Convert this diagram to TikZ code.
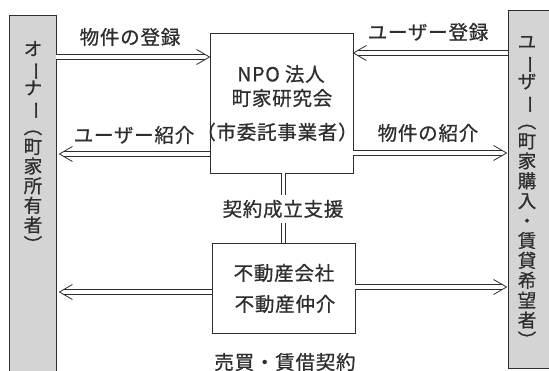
\documentclass[tikz,border=0pt]{standalone}
\usepackage{fontspec}
\setmainfont{Noto Sans CJK JP}[FakeBold=0.8]
\usetikzlibrary{calc}
\definecolor{barfill}{HTML}{D4D4D4}
\definecolor{ink}{HTML}{2E2E2E}
\newcommand\jvb{\rotatebox[origin=c]{-90}{ー}}
\newcommand\jlp{\rotatebox[origin=c]{-90}{（}}
\newcommand\jrp{\rotatebox[origin=c]{-90}{）}}
% double arrow: #1 start, #2 tip, #3 = 1 (points right) or -1 (points left)
\newcommand\dblarrow[3]{%
  \draw[dbl, shorten >=5pt] (#1) -- (#2);
  \draw[chev] ($(#2)+(-13*#3,-7.5)$) -- (#2) -- ($(#2)+(-13*#3,7.5)$);}
\begin{document}
\begin{tikzpicture}[x=1pt,y=-1pt,
  every node/.style={text=ink, inner sep=0pt},
  lbl/.style={font=\fontsize{19.5}{22}\selectfont\addfontfeature{LetterSpace=4}},
  vch/.style={font=\fontsize{18.5}{22}\selectfont, text height=14pt, text depth=3pt},
  bar/.style={draw=ink, line width=0.9pt, fill=barfill},
  box/.style={draw=ink, line width=0.9pt, fill=white},
  dbl/.style={draw=ink, line width=0.8pt, double=white, double distance=3.6pt},
  chev/.style={draw=ink, line width=0.8pt, line join=miter}]
\useasboundingbox (0,0) rectangle (549,371);
\clip (0,0) rectangle (549,371);
% side bars
\node[bar, minimum width=47pt, minimum height=375pt] (owner) at (32.5,202.5) {};
\node[bar, minimum width=52pt, minimum height=358pt] (user) at (534,189) {};
% central boxes
\node[box, minimum width=143pt, minimum height=140pt] (npo) at (281.5,103) {};
\node[box, minimum width=143pt, minimum height=90pt] (realty) at (283.5,288) {};
% box texts
\node[lbl] (npo1) at (281,74) {NPO 法人};
\node[lbl] (npo2) at (282,98) {町家研究会};
\node[lbl] (npo3) at (277,132) {（市委託事業者）};
\node[lbl] (re1) at (284,273) {不動産会社};
\node[lbl] (re2) at (285,304) {不動産仲介};
% vertical texts
\foreach \c [count=\i from 0] in {オ,\jvb,ナ,\jvb,\jlp,町,家,所,有,者,\jrp}
  \node[vch] (ow\i) at (33,50+19.6*\i) {\c};
\foreach \c [count=\i from 0] in {ユ,\jvb,ザ,\jvb,\jlp,町,家,購,入,・,賃,貸,希,望,者,\jrp}
  \node[vch] (us\i) at (527,43+19.9*\i) {\c};
% arrow end points
\coordinate (a1) at (owner.east |- 0,57);
\coordinate (a2) at (npo.west |- 0,57);
\coordinate (b1) at (user.west |- 0,53);
\coordinate (b2) at (npo.east |- 0,53);
\coordinate (c1) at (npo.west |- 0,154);
\coordinate (c2) at ([xshift=3pt]owner.east |- 0,154);
\coordinate (d1) at (npo.east |- 0,153);
\coordinate (d2) at ([xshift=-1pt]user.west |- 0,153);
\coordinate (e1) at (realty.west |- 0,292);
\coordinate (e2) at ([xshift=3pt]owner.east |- 0,292);
\coordinate (f1) at (realty.east |- 0,287);
\coordinate (f2) at ([xshift=-1pt]user.west |- 0,287);
\dblarrow{a1}{a2}{1}
\dblarrow{b1}{b2}{-1}
\dblarrow{c1}{c2}{-1}
\dblarrow{d1}{d2}{1}
\dblarrow{e1}{e2}{-1}
\dblarrow{f1}{f2}{1}
% arrow labels
\node[lbl] (l1) at (130,37) {物件の登録};
\node[lbl] (l2) at (428,32) {ユーザー登録};
\node[lbl] (l3) at (134,135) {ユーザー紹介};
\node[lbl] (l4) at (428,133) {物件の紹介};
\node[lbl] (l5) at (285,362) {売買・賃借契約};
% support link
\node[lbl, inner ysep=5pt] (sup) at (283,209) {契約成立支援};
\coordinate (vx) at (283.5,0);
\draw[dbl] (npo.south -| vx) -- (sup.north -| vx);
\draw[dbl] (sup.south -| vx) -- (realty.north -| vx);
\end{tikzpicture}
\end{document}
